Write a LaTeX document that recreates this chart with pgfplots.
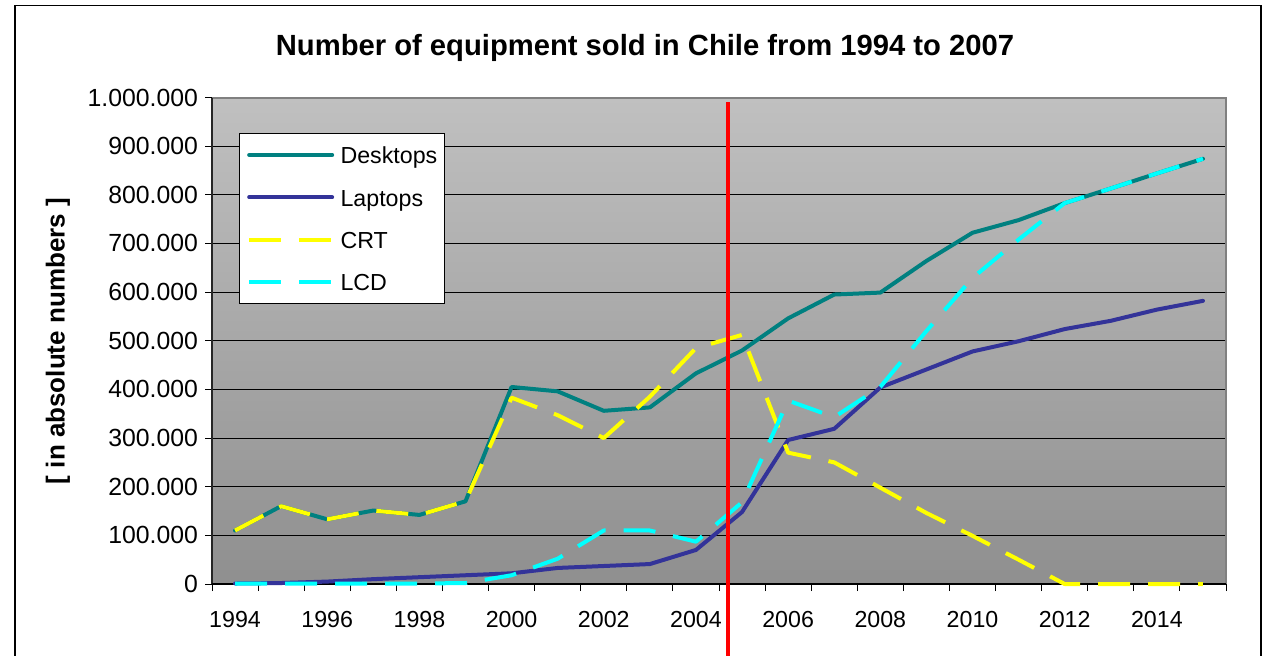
\documentclass[border=0pt]{standalone}
\usepackage{fontspec}
\setmainfont{Liberation Sans}
\usepackage{pgfplots}
\pgfplotsset{compat=1.18}
\definecolor{desk}{RGB}{0,128,128}
\definecolor{lap}{RGB}{51,51,153}
\definecolor{crt}{RGB}{255,255,0}
\definecolor{lcd}{RGB}{0,255,255}
\definecolor{bgtop}{RGB}{192,192,192}
\definecolor{bgbot}{RGB}{143,143,143}
\definecolor{bordergray}{RGB}{128,128,128}

\pgfplotstableread{
i desk lap crt lcd
0 110 1 110 1
1 160 2 160 1
2 133 5 133 1
3 151 10 151 1
4 142 14 142 1
5 170 18 170 2
6 405 22 383 18
7 396 33 347 52
8 356 37 300 110
9 363 41 385 110
10 433 70 485 87
11 480 148 512 168
12 546 296 270 377
13 595 319 250 343
14 599 404 198 405
15 664 441 146 520
16 722 478 99 629
17 748 499 50 708
18 783 524 0 783
19 813 541 0 813
20 844 564 0 844
21 874 582 0 874
}\data

\begin{document}
\begin{tikzpicture}
\useasboundingbox (0,0) rectangle (634pt,327.5pt);
\clip (0,0) rectangle (634pt,327.5pt);
\draw[black, line width=0.75pt] (7.5pt,-20pt) rectangle (630.5pt,324.8pt);
\node[font=\bfseries\fontsize{14.6}{17}\selectfont, anchor=base] at (322.5pt,299.5pt) {Number of equipment sold in Chile from 1994 to 2007};
\node[font=\bfseries\fontsize{13}{15}\selectfont, rotate=90] at (29pt,157pt) {[ in absolute numbers ]};
\begin{axis}[
  at={(106pt,35.5pt)}, anchor=south west,
  scale only axis, width=507pt, height=243.25pt,
  xmin=-0.5, xmax=21.5, ymin=0, ymax=1000,
  clip=false,
  axis background/.style={top color=bgtop, bottom color=bgbot},
  axis line style={draw=none},
  tick align=outside,
  xtick pos=bottom, ytick pos=left,
  major tick length=3.5pt,
  tick style={black, line width=0.5pt},
  xtick={-0.5,0.5,...,21.5},
  xticklabels={},
  extra x ticks={0,2,...,20},
  extra x tick labels={1994,1996,1998,2000,2002,2004,2006,2008,2010,2012,2014},
  extra x tick style={tick style={draw=none}},
  xticklabel style={yshift=-6.65pt, font=\fontsize{11.6}{14}\selectfont},
  ytick={0,100,...,1000},
  yticklabels={0,100.000,200.000,300.000,400.000,500.000,600.000,700.000,800.000,900.000,1.000.000},
  yticklabel style={font=\fontsize{12.4}{14}\selectfont},
  ymajorgrids=true,
  grid style={black, line width=0.5pt},
  legend cell align=left,
  legend image code/.code={\draw[#1] (0pt,0pt) -- (41.5pt,0pt);},
  legend style={at={(0.0266,0.9264)}, anchor=north west, draw=black, line width=0.5pt, fill=white,
    inner xsep=3.85pt, inner ysep=0pt, column sep=3.2pt, row sep=0pt,
    font=\fontsize{11.6}{14}\selectfont,
    nodes={inner sep=0pt, text height=15.05pt, text depth=6.1pt}},
]
\draw[bordergray, line width=1pt] (rel axis cs:0,1) -- (rel axis cs:1,1) -- (rel axis cs:1,0);
\draw[black!85, line width=1pt] (rel axis cs:0,1) -- (rel axis cs:0,0);
\draw[black, line width=0.75pt] (rel axis cs:0,0) -- (rel axis cs:1,0);
\addplot[desk, line width=2pt, line join=round, line cap=round] table[x=i, y=desk] {\data};
\addlegendentry{Desktops}
\addplot[lap, line width=2pt, line join=round, line cap=round] table[x=i, y=lap] {\data};
\addlegendentry{Laptops}
\addplot[crt, line width=2pt, line join=round, dash pattern=on 16pt off 9pt] table[x=i, y=crt] {\data};
\addlegendentry{CRT}
\addplot[lcd, line width=2pt, line join=round, dash pattern=on 16pt off 9pt] table[x=i, y=lcd] {\data};
\addlegendentry{LCD}
\draw[red, line width=2pt] (axis cs:10.695,990.7) -- (axis cs:10.695,-200);
\end{axis}
\end{tikzpicture}
\end{document}
